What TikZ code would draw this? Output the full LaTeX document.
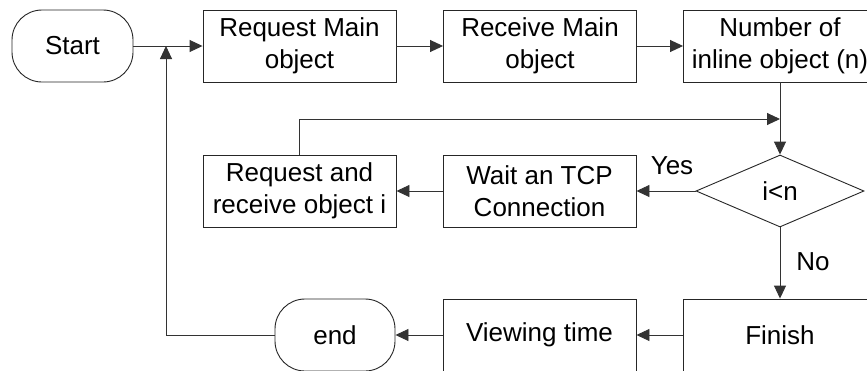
\documentclass[tikz,border=0pt]{standalone}
\usepackage{fontspec}
\setmainfont{Liberation Sans}
\usetikzlibrary{shapes.geometric,arrows.meta}

\begin{document}
\begin{tikzpicture}[x=1pt,y=-1pt,
  every node/.style={font=\fontsize{26}{32}\selectfont, align=center},
  procbox/.style={draw=black!85, line width=0.9pt, minimum width=193pt, minimum height=72pt, inner sep=0pt},
  termbox/.style={draw=black!85, line width=0.9pt, rounded corners=30pt, minimum height=72pt, inner sep=0pt},
  decision/.style={draw=black!85, line width=0.9pt, diamond, minimum width=168pt, minimum height=72pt, inner sep=0pt},
  arr/.style={draw=black!80, line width=0.9pt, -{Triangle[length=13pt,width=12pt]}},
  lbl/.style={inner sep=0pt}
]
\clip (0,0) rectangle (867,370);
\fill[white] (0,0) rectangle (867,370);

% top row
\node[termbox, minimum width=121pt] (start) at (72.5,46) {Start};
\node[procbox] (req)  at (299.5,46) {Request Main\\object};
\node[procbox] (recv) at (540,46) {Receive Main\\object};
\node[procbox] (num)  at (780,46) {Number of\\inline object (n)};

% middle row
\node[decision] (dec) at (780,191) {i<n};
\node[procbox] (wait) at (539.5,191) {Wait an TCP\\Connection};
\node[procbox] (rr)   at (299.5,191) {Request and\\receive object i};

% bottom row
\node[procbox] (fin)  at (780,335) {Finish};
\node[procbox] (view) at (539.5,335) {Viewing time};
\node[termbox, minimum width=120pt] (endn) at (335,335) {end};

% loop end points
\coordinate (loopin) at (780,119);
\coordinate (backin) at (166,46);
\coordinate (backcorner) at (166,335);

% connectors
\draw[arr] (start.east) -- (req.west);
\draw[arr] (req.east) -- (recv.west);
\draw[arr] (recv.east) -- (num.west);
\draw[arr] (num.south) -- (dec.north);
\draw[arr] (dec.west) -- (wait.east);
\draw[arr] (wait.west) -- (rr.east);
\draw[arr] (rr.north) |- (loopin);
\draw[arr] (dec.south) -- (fin.north);
\draw[arr] (fin.west) -- (view.east);
\draw[arr] (view.west) -- (endn.east);
\draw[arr] (endn.west) -- (backcorner) -- (backin);

% branch labels
\node[lbl] (yes) at (672,166) {Yes};
\node[lbl] (no)  at (813,262) {No};
\end{tikzpicture}
\end{document}
